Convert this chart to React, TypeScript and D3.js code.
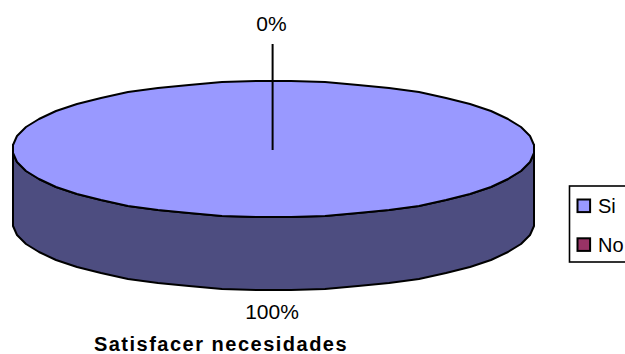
import React from 'react';
import * as d3 from 'd3';

const width = 625;
const height = 354;

// Datos del grafico
const categories = ['Si', 'No'];
const values = [100, 0];
const sliceLabels = ['100%', '0%'];
const topColors = ['#9999FF', '#993366'];
const sideColors = ['#4D4D80', '#4D1A33'];
const title = 'Satisfacer necesidades';

// Geometria de la elipse
const cx = 273.5;
const cy = 149;
const rx = 261.5;
const ry = 68;
const depth = 73;
const segments = 48; // el original tiene el contorno facetado

const ellipsePoint = (a: number): [number, number] => [
  Math.round(cx + rx * Math.sin(a)),
  Math.round(cy - ry * Math.cos(a)),
];

const step = (2 * Math.PI) / segments;

// Vertices entre dos angulos, con una arista centrada en cada extremo de la elipse
const verticesBetween = (start: number, end: number) =>
  d3.range(0, segments).map(i => (i + 0.5) * step).filter(a => a >= start && a <= end);

export default function App() {
  const pie = d3.pie<number>().value(d => d).sort(null);
  const arcs = pie(values);

  const line = d3.line<number>().x(a => ellipsePoint(a)[0]).y(a => ellipsePoint(a)[1]);
  const side = d3
    .area<number>()
    .x(a => ellipsePoint(a)[0])
    .y0(a => ellipsePoint(a)[1])
    .y1(a => ellipsePoint(a)[1] + depth);

  const front = verticesBetween(Math.PI / 2 - step, (3 * Math.PI) / 2 + step);

  const legendY = d3.scalePoint<string>().domain(categories).range([205.8, 244.6]);

  return (
    <svg
      width={width}
      height={height}
      style={{ position: 'absolute', left: 0, top: 0, background: '#fff', fontFamily: '"Liberation Sans", Arial, sans-serif' }}
    >
      <path d={side(front) ?? ''} fill={sideColors[0]} stroke="#000" strokeWidth={2} strokeLinejoin="round" />
      {arcs.map((d, i) =>
        d.endAngle > d.startAngle ? (
          <path
            key={categories[i]}
            d={(line(verticesBetween(d.startAngle, d.endAngle)) ?? '') + 'Z'}
            fill={topColors[i]}
            stroke="#000"
            strokeWidth={2}
            strokeLinejoin="round"
          />
        ) : null
      )}

      {/* Linea guia del 0% */}
      <line x1={272.6} x2={272.6} y1={44} y2={150} stroke="#000" strokeWidth={2} />
      <text x={271.5} y={31} textAnchor="middle" fontSize={21} fill="#000">{sliceLabels[1]}</text>
      <text x={272} y={319} textAnchor="middle" fontSize={21} fill="#000">{sliceLabels[0]}</text>

      <text x={221} y={351} textAnchor="middle" fontSize={20} fontWeight="bold" letterSpacing={1.5} fill="#000">{title}</text>

      {/* Leyenda */}
      <rect x={569.5} y={186} width={70} height={76} fill="#fff" stroke="#000" strokeWidth={1.6} />
      {categories.map((c, i) => (
        <g key={c}>
          <rect x={577.5} y={(legendY(c) ?? 0) - 6.3} width={12.6} height={12.6} fill={topColors[i]} stroke="#000" strokeWidth={2} />
          <text x={598} y={(legendY(c) ?? 0) + 7.2} fontSize={20} fill="#000">{c}</text>
        </g>
      ))}
    </svg>
  );
}
